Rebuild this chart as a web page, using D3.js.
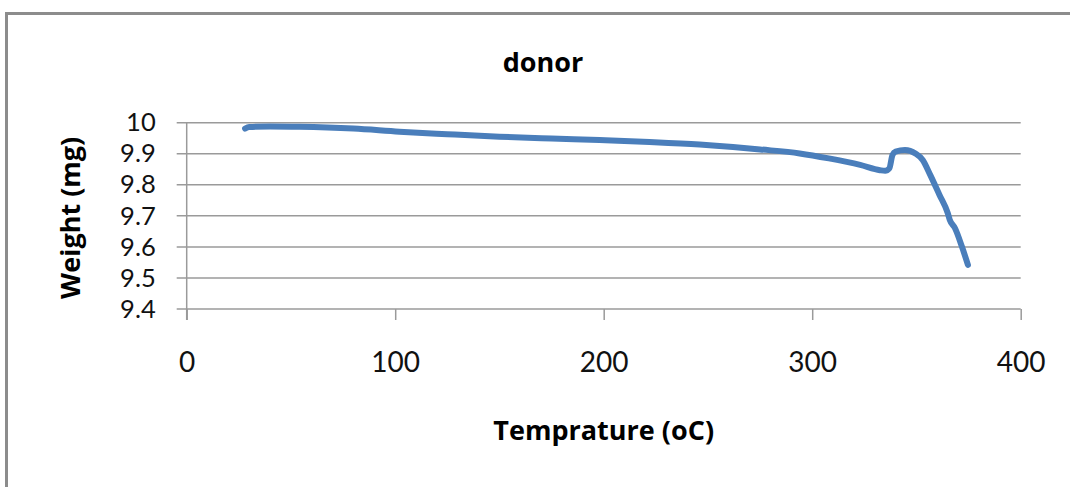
<!DOCTYPE html>
<html>
<head>
<meta charset="utf-8">
<script src="https://cdn.jsdelivr.net/npm/d3@7"></script>
<style>
  body { margin: 0; background: #fff; }
  svg { display: block; font-family: "Open Sans", sans-serif; }
</style>
</head>
<body>
<svg id="chart" width="1070" height="487"></svg>
<script>
// data
const temps = [28, 30, 40, 54, 80, 102, 125, 150, 175, 198, 222, 246, 262, 275, 294, 308, 323, 332.5, 335, 337, 338.5, 340, 344.5, 349.5, 353, 356.6, 361, 365, 366, 368.5, 371.8, 374.7];
const weights = [9.981, 9.986, 9.988, 9.987, 9.981, 9.971, 9.963, 9.955, 9.949, 9.944, 9.938, 9.930, 9.922, 9.914, 9.901, 9.885, 9.864, 9.847, 9.845, 9.853, 9.896, 9.907, 9.912, 9.901, 9.880, 9.832, 9.768, 9.709, 9.687, 9.660, 9.601, 9.542];
const xTicks = [0, 100, 200, 300, 400];
const yTicks = [9.4, 9.5, 9.6, 9.7, 9.8, 9.9, 10];
const title = "donor";
const xTitle = "Temprature (oC)";
const yTitle = "Weight (mg)";

const data = temps.map((t, i) => ({t: t, w: weights[i]}));

const svg = d3.select("#chart");
const plotLeft = 186.7, plotRight = 1020.7, plotTop = 122.7, plotBottom = 309;
const grey = "#9a9a9a";

const x = d3.scaleLinear().domain([0, 400]).range([plotLeft, plotRight]);
const y = d3.scaleLinear().domain([9.4, 10]).range([plotBottom, plotTop]);

// chart frame (only top and left edges are visible in the crop)
svg.append("path")
    .attr("d", "M6.5,487 V13.5 H1070")
    .attr("fill", "none")
    .attr("stroke", "#8c8c8c")
    .attr("stroke-width", 3);

// horizontal gridlines
svg.append("g")
    .selectAll("line")
    .data(yTicks)
    .enter()
    .append("line")
    .attr("x1", plotLeft - 10)
    .attr("x2", plotRight)
    .attr("y1", d => y(d))
    .attr("y2", d => y(d))
    .attr("stroke", grey)
    .attr("stroke-width", 1.5);

// y axis
const yAxis = svg.append("g")
    .attr("transform", `translate(${plotLeft},0)`)
    .call(d3.axisLeft(y).tickValues(yTicks).tickSize(0).tickPadding(31)
        .tickFormat(d => d === 10 ? "10" : d3.format(".1f")(d)));
yAxis.select(".domain").remove();
yAxis.append("line")
    .attr("x1", 0).attr("x2", 0)
    .attr("y1", plotTop).attr("y2", plotBottom + 11)
    .attr("stroke", grey).attr("stroke-width", 1.5);
yAxis.selectAll(".tick text")
    .attr("font-size", 25.5)
    .attr("font-family", "Lato, sans-serif")
    .attr("fill", "#111");

// x axis
const xAxis = svg.append("g")
    .attr("transform", `translate(0,${plotBottom})`)
    .call(d3.axisBottom(x).tickValues(xTicks).tickSize(11).tickPadding(32).tickSizeOuter(0));
xAxis.select(".domain").remove();
xAxis.selectAll(".tick line").attr("stroke", grey).attr("stroke-width", 1.5);
xAxis.selectAll(".tick text")
    .attr("font-size", 28)
    .attr("font-family", "Lato, sans-serif")
    .attr("fill", "#111");

// series
const line = d3.line()
    .x(d => x(d.t))
    .y(d => y(d.w))
    .curve(d3.curveMonotoneX);

svg.append("path")
    .datum(data)
    .attr("d", line)
    .attr("fill", "none")
    .attr("stroke", "#4a7ebb")
    .attr("stroke-width", 6)
    .attr("stroke-linecap", "round")
    .attr("stroke-linejoin", "round");

// titles
svg.append("text")
    .attr("x", 543)
    .attr("y", 72)
    .attr("text-anchor", "middle")
    .attr("font-size", 27)
    .attr("font-weight", "bold")
    .text(title);

svg.append("text")
    .attr("x", (plotLeft + plotRight) / 2)
    .attr("y", 440)
    .attr("text-anchor", "middle")
    .attr("font-size", 27)
    .attr("font-weight", "bold")
    .text(xTitle);

svg.append("text")
    .attr("transform", `translate(80,${(plotTop + plotBottom) / 2 + 2}) rotate(-90)`)
    .attr("text-anchor", "middle")
    .attr("font-size", 27)
    .attr("font-weight", "bold")
    .text(yTitle);
</script>
</body>
</html>
